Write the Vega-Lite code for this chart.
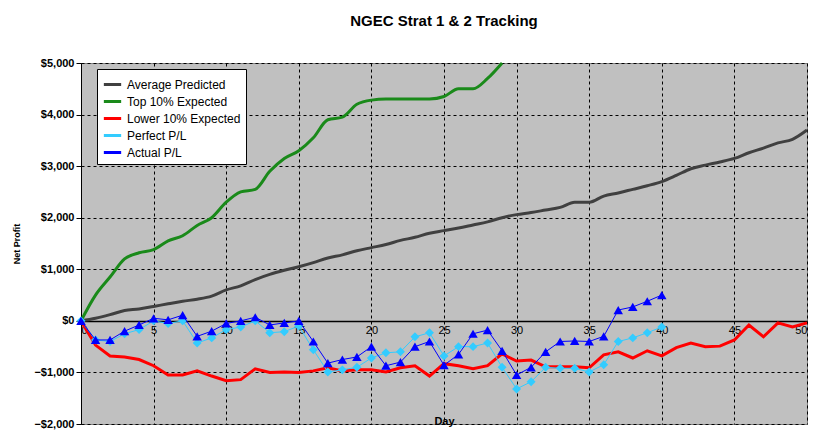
{
"$schema":"https://vega.github.io/schema/vega-lite/v6.json",
"width":726,"height":361,
"autosize":{"type":"none"},
"padding":{"left":81,"top":63,"right":10,"bottom":7},
"background":"white",
"title":{"text":"NGEC Strat 1 & 2 Tracking","font":"Liberation Sans","fontSize":15,"fontWeight":"bold","offset":28,"anchor":"middle"},
"config":{"view":{"fill":"#c0c0c0","stroke":"#808080"},"font":"Liberation Sans"},
"datasets":{
"avg":[0,50,120,200,230,280,330,380,420,480,600,680,800,900,980,1050,1130,1220,1280,1360,1420,1480,1560,1620,1700,1750,1800,1860,1920,2000,2060,2100,2150,2200,2300,2300,2420,2480,2550,2620,2700,2820,2950,3020,3080,3150,3260,3350,3450,3520,3700],
"top":[0,500,850,1200,1320,1380,1550,1650,1850,2000,2300,2500,2550,2900,3150,3300,3550,3900,3950,4200,4280,4300,4300,4300,4300,4350,4500,4500,4700,5000],
"low":[0,-470,-680,-700,-750,-870,-1050,-1050,-970,-1070,-1160,-1140,-930,-1000,-990,-1000,-970,-910,-970,-950,-950,-990,-910,-870,-1070,-830,-870,-930,-870,-640,-780,-760,-890,-890,-890,-910,-660,-600,-720,-580,-680,-520,-430,-500,-490,-370,-80,-310,-40,-120,-40],
"perf":[0,-370,-400,-250,-170,0,-50,0,-430,-330,-170,-120,0,-230,-210,-100,-560,-990,-950,-900,-720,-620,-600,-310,-230,-680,-500,-500,-430,-900,-1320,-1180,-900,-920,-920,-990,-850,-400,-330,-230,-120],
"act":[0,-370,-370,-200,-80,50,20,110,-300,-200,-50,0,70,-80,-40,0,-400,-820,-750,-700,-500,-870,-800,-500,-400,-860,-650,-250,-180,-580,-1050,-900,-600,-400,-390,-400,-300,210,270,380,500]
},
"data":{"name":"avg"},
"layer":[
{"data":{"name":"avg"},"transform":[{"window":[{"op":"row_number","as":"r"}]},{"calculate":"datum.r-1","as":"day"},{"calculate":"'Average Predicted'","as":"series"}],
 "mark":{"type":"line","strokeWidth":3,"interpolate":"monotone"},
 "encoding":{"x":{"field":"day","type":"quantitative"},"y":{"field":"data","type":"quantitative"},"color":{"field":"series"}}},
{"data":{"name":"top"},"transform":[{"window":[{"op":"row_number","as":"r"}]},{"calculate":"datum.r-1","as":"day"},{"calculate":"'Top 10% Expected'","as":"series"}],
 "mark":{"type":"line","strokeWidth":3,"interpolate":"monotone"},
 "encoding":{"x":{"field":"day","type":"quantitative"},"y":{"field":"data","type":"quantitative"},"color":{"field":"series"}}},
{"data":{"name":"low"},"transform":[{"window":[{"op":"row_number","as":"r"}]},{"calculate":"datum.r-1","as":"day"},{"calculate":"'Lower 10% Expected'","as":"series"}],
 "mark":{"type":"line","strokeWidth":3},
 "encoding":{"x":{"field":"day","type":"quantitative"},"y":{"field":"data","type":"quantitative"},"color":{"field":"series"}}},
{"data":{"name":"perf"},"transform":[{"window":[{"op":"row_number","as":"r"}]},{"calculate":"datum.r-1","as":"day"},{"calculate":"'Perfect P/L'","as":"series"}],
 "mark":{"type":"line","strokeWidth":1,"point":{"shape":"diamond","size":80,"filled":true}},
 "encoding":{"x":{"field":"day","type":"quantitative"},"y":{"field":"data","type":"quantitative"},"color":{"field":"series"}}},
{"data":{"name":"act"},"transform":[{"window":[{"op":"row_number","as":"r"}]},{"calculate":"datum.r-1","as":"day"},{"calculate":"'Actual P/L'","as":"series"}],
 "mark":{"type":"line","strokeWidth":1,"point":{"shape":"triangle-up","size":90,"filled":true}},
 "encoding":{"x":{"field":"day","type":"quantitative"},"y":{"field":"data","type":"quantitative"},"color":{"field":"series"}}}
],
"encoding":{
"x":{"field":"day","type":"quantitative","scale":{"domain":[0,50],"nice":false},"axis":{"values":[0,5,10,15,20,25,30,35,40,45,50],"offset":-103,"domain":true,"domainColor":"black","domainWidth":1.5,"tickSize":0,"labelPadding":3,"labelFontSize":11,"labelColor":"black","grid":true,"gridColor":"black","gridDash":[3,3],"gridOpacity":1,"title":"Day","titleFontSize":11,"titleFontWeight":"bold","titlePadding":80}},
"y":{"field":"data","type":"quantitative","scale":{"domain":[-2000,5000],"nice":false},"axis":{"values":[-2000,-1000,0,1000,2000,3000,4000,5000],"format":"$,.0f","labelFontSize":11,"labelFontWeight":"bold","labelColor":"black","grid":true,"gridColor":"black","gridDash":[3,3],"gridOpacity":1,"domainColor":"black","tickColor":"black","title":"Net Profit","titleFontSize":9,"titleFontWeight":"bold","titlePadding":12}},
"color":{"field":"series","type":"nominal","scale":{"domain":["Average Predicted","Top 10% Expected","Lower 10% Expected","Perfect P/L","Actual P/L"],"range":["#404040","#1a8a1a","#ff0000","#33ccff","#0000ff"]},
 "legend":{"title":null,"orient":"none","legendX":16,"legendY":6,"fillColor":"white","strokeColor":"black","padding":5,"symbolType":"stroke","symbolSize":300,"symbolStrokeWidth":3,"labelFontSize":12,"labelColor":"black","rowPadding":0,"labelLimit":200}}
}
}
